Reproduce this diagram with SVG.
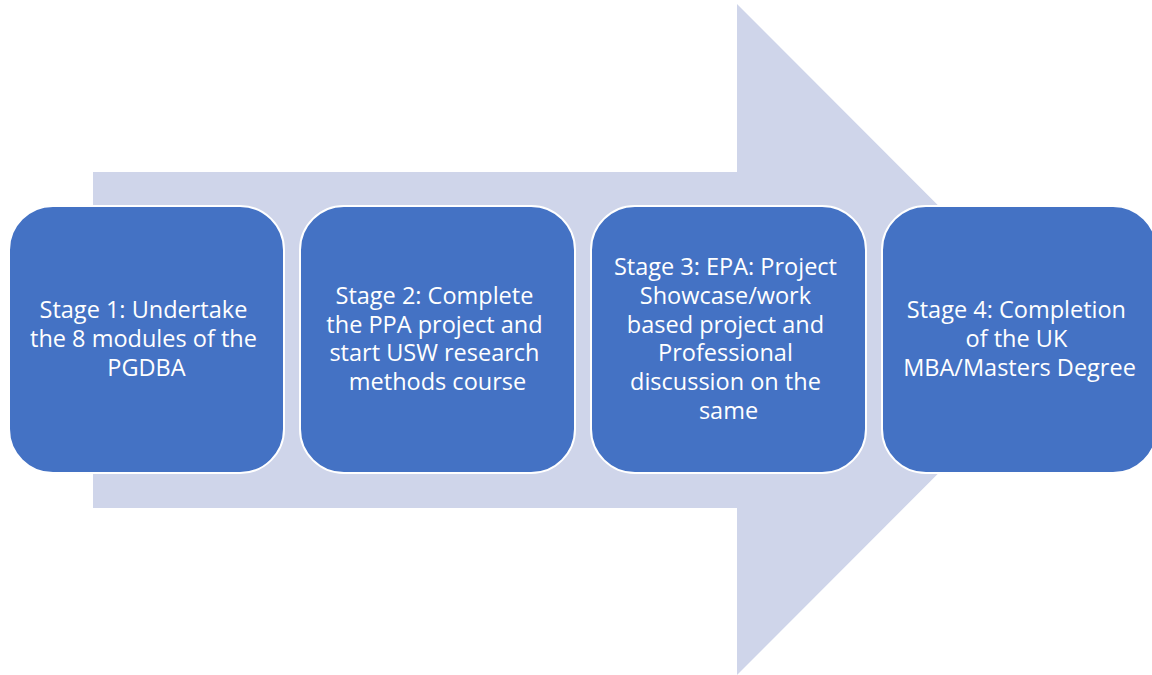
<svg xmlns="http://www.w3.org/2000/svg" width="1152" height="675" viewBox="0 0 1152 675">
  <style>
    .stage { fill: #4472C4; stroke: #FFFFFF; stroke-width: 2; }
    .label { fill: #FFFFFF; font-family: "Open Sans", "Liberation Sans", sans-serif; font-size: 23.5px; text-anchor: middle; }
  </style>
  <rect width="1152" height="675" fill="#FFFFFF"/>

  <!-- background process arrow -->
  <g id="connectors">
    <path id="process-arrow" d="M93,172 H737 V4 L1072,339.5 L737,675 V508 H93 Z" fill="#CFD5EA"/>
  </g>

  <g id="stage1">
    <rect class="stage" x="9" y="206" width="275" height="267" rx="44" ry="44"/>
    <text class="label">
      <tspan x="146.5" y="318.2">Stage 1: Undertake</tspan>
      <tspan x="146.5" y="347">the 8 modules of the</tspan>
      <tspan x="146.5" y="375.8">PGDBA</tspan>
    </text>
  </g>

  <g id="stage2">
    <rect class="stage" x="300" y="206" width="275" height="267" rx="44" ry="44"/>
    <text class="label">
      <tspan x="437.5" y="303.8">Stage 2: Complete</tspan>
      <tspan x="437.5" y="332.6">the PPA project and</tspan>
      <tspan x="437.5" y="361.4">start USW research</tspan>
      <tspan x="437.5" y="390.2">methods course</tspan>
    </text>
  </g>

  <g id="stage3">
    <rect class="stage" x="591" y="206" width="275" height="267" rx="44" ry="44"/>
    <text class="label">
      <tspan x="728.5" y="275">Stage 3: EPA: Project</tspan>
      <tspan x="728.5" y="303.8">Showcase/work</tspan>
      <tspan x="728.5" y="332.6">based project and</tspan>
      <tspan x="728.5" y="361.4">Professional</tspan>
      <tspan x="728.5" y="390.2">discussion on the</tspan>
      <tspan x="728.5" y="419">same</tspan>
    </text>
  </g>

  <g id="stage4">
    <rect class="stage" x="882" y="206" width="275" height="267" rx="44" ry="44"/>
    <text class="label">
      <tspan x="1019.5" y="318.2">Stage 4: Completion</tspan>
      <tspan x="1019.5" y="347">of the UK</tspan>
      <tspan x="1019.5" y="375.8">MBA/Masters Degree</tspan>
    </text>
  </g>
</svg>
